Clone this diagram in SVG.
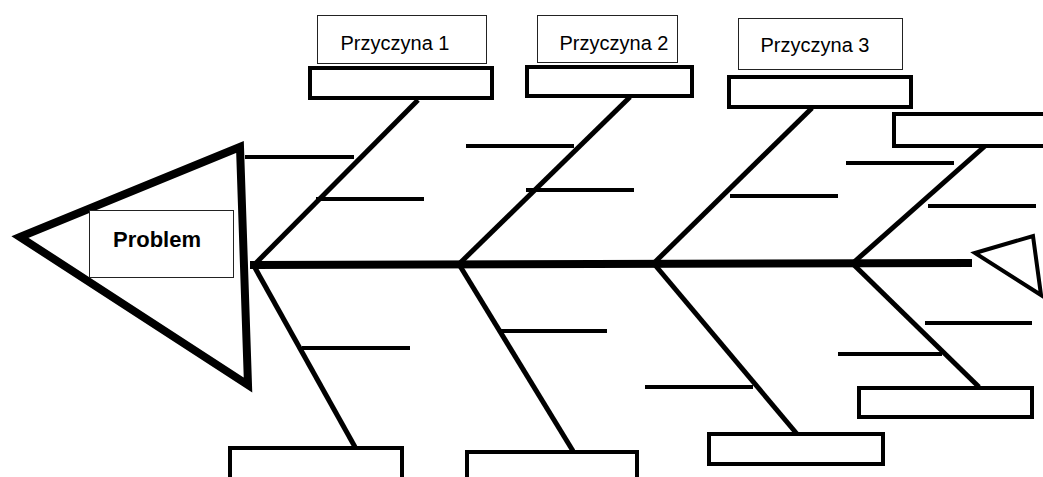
<svg xmlns="http://www.w3.org/2000/svg" width="1043" height="477" viewBox="0 0 1043 477">
<style>
.bone{stroke:#000;stroke-width:5;fill:none}
.twig{stroke:#000;stroke-width:4;fill:none}
.box{fill:#fff;stroke:#000;stroke-width:4}
.label{fill:#fff;stroke:#222;stroke-width:1}
.t{font-family:"Liberation Sans",Arial,sans-serif;font-size:20px;fill:#000;text-anchor:middle}
.tb{font-family:"Liberation Sans",Arial,sans-serif;font-size:22px;font-weight:bold;fill:#000;text-anchor:middle}
</style>
<rect width="1043" height="477" fill="#fff"/>
<g id="connectors">
<line x1="250" y1="265" x2="972" y2="263" stroke="#000" stroke-width="8"/>
<line class="bone" x1="254" y1="265" x2="418" y2="100"/>
<line class="bone" x1="458" y1="265" x2="630" y2="97"/>
<line class="bone" x1="653" y1="264" x2="812" y2="108"/>
<line class="bone" x1="853" y1="263" x2="985" y2="146"/>
<line class="bone" x1="254" y1="266" x2="355" y2="447"/>
<line class="bone" x1="460" y1="266" x2="573" y2="451"/>
<line class="bone" x1="655" y1="265" x2="797" y2="434"/>
<line class="bone" x1="853" y1="264" x2="979" y2="387"/>
<line class="twig" x1="245" y1="157" x2="354" y2="157"/>
<line class="twig" x1="316" y1="199" x2="424" y2="199"/>
<line class="twig" x1="466" y1="146" x2="574" y2="146"/>
<line class="twig" x1="526" y1="190" x2="634" y2="190"/>
<line class="twig" x1="730" y1="196" x2="838" y2="196"/>
<line class="twig" x1="846" y1="163" x2="954" y2="163"/>
<line class="twig" x1="928" y1="206" x2="1036" y2="206"/>
<line class="twig" x1="302" y1="348" x2="410" y2="348"/>
<line class="twig" x1="500" y1="331" x2="607" y2="331"/>
<line class="twig" x1="645" y1="387" x2="753" y2="387"/>
<line class="twig" x1="925" y1="323" x2="1032" y2="323"/>
<line class="twig" x1="838" y1="354" x2="942" y2="354"/>
</g>
<g id="head">
<polygon points="20,237 240,147 248,385" fill="none" stroke="#000" stroke-width="8" stroke-linejoin="miter"/>
</g>
<g id="problem">
<rect class="label" x="89.5" y="210.5" width="144" height="67"/>
<text class="tb" x="157" y="247">Problem</text>
</g>
<g id="tail">
<polygon points="975,253 1033,236 1041,295" fill="#fff" stroke="#000" stroke-width="4"/>
</g>
<g id="cause1">
<rect class="label" x="317.5" y="15.5" width="169" height="48"/>
<text class="t" x="395" y="50">Przyczyna 1</text>
</g>
<g id="cause2">
<rect class="label" x="537.5" y="15.5" width="140" height="47"/>
<text class="t" x="614" y="50">Przyczyna 2</text>
</g>
<g id="cause3">
<rect class="label" x="738.5" y="18.5" width="164" height="51"/>
<text class="t" x="815" y="52">Przyczyna 3</text>
</g>
<g id="box-top1"><rect class="box" x="310" y="68" width="182" height="30"/></g>
<g id="box-top2"><rect class="box" x="527" y="67" width="165" height="29"/></g>
<g id="box-top3"><rect class="box" x="729" y="77" width="182" height="30"/></g>
<g id="box-top4"><rect class="box" x="894" y="114" width="160" height="32"/></g>
<g id="box-bot1"><rect class="box" x="230" y="448" width="172" height="45"/></g>
<g id="box-bot2"><rect class="box" x="467" y="452" width="170" height="45"/></g>
<g id="box-bot3"><rect class="box" x="709" y="434" width="174" height="30"/></g>
<g id="box-bot4"><rect class="box" x="859" y="388" width="173" height="29"/></g>
</svg>
